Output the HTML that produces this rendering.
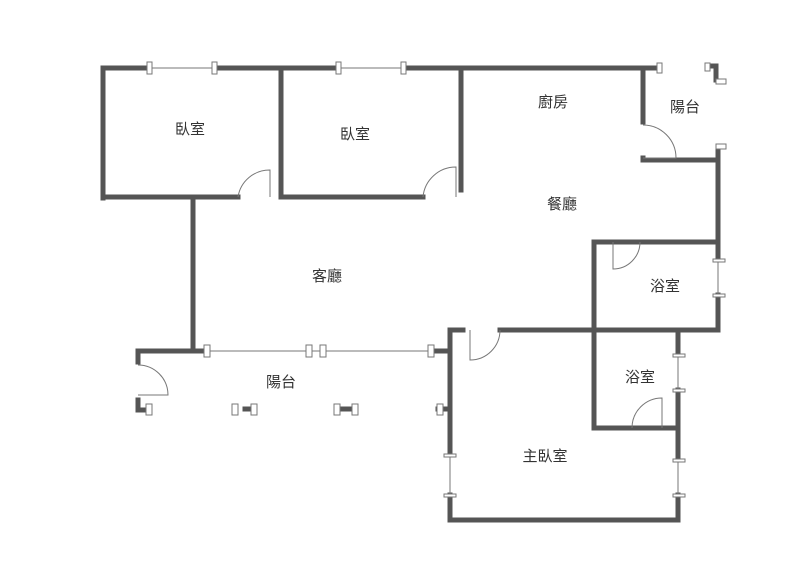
<!DOCTYPE html>
<html><head><meta charset="utf-8"><style>
body{margin:0;background:#fff}
svg text{font-family:"Liberation Sans","Noto Sans CJK TC",sans-serif;font-size:15px;fill:#333;text-anchor:middle;dominant-baseline:middle}
</style></head><body>
<svg width="800" height="577" viewBox="0 0 800 577">
<g stroke="#555" stroke-width="5" fill="none" stroke-linecap="square">
<path d="M103 198 V68 H149 M214 68 H338 M403 68 H658"/>
<path d="M103 197 H238 M281 70 V197 H423 M461 70 V190"/>
<path d="M193 198 V351 H203 M138 362 V351 H193 M138 400 V410 H146 M433 351 H450"/>
<path d="M643 68 V122 M643 158 V160 H718 M718 148 V260 M718 295 V330 H500 M463 330 H450 V455 M450 495 V520 H678 V495 M678 460 V390 M678 355 V330"/>
<path d="M594 330 V242 H718 M594 330 V428 H678"/>
<path d="M708 66 H716 V80"/>
<path d="M245 409 H250 M341 409 H350 M438 409 H450"/>
</g>
<g stroke="#777" stroke-width="1" fill="none">
<path d="M149 68 H214 M338 68 H403 M207 351 H430 M450 455 V495 M678 355 V390 M678 460 V495 M718 260 V295"/>
<path d="M238 197 A32 32 0 0 1 270 170 V197"/>
<path d="M423 197 A33 33 0 0 1 456 167 V197"/>
<path d="M643 125 A33 33 0 0 1 676 158 H643"/>
<path d="M138 365 A30 30 0 0 1 168 395 H138"/>
<path d="M500 330 A30 30 0 0 1 470 360 V330"/>
<path d="M640 242 A27 27 0 0 1 613 269 V242"/>
<path d="M632 428 A30 30 0 0 1 662 398 V428"/>
</g>
<g stroke="#777" stroke-width="1" fill="#fff">
<rect x="147" y="62" width="5" height="12"/><rect x="212" y="62" width="5" height="12"/>
<rect x="336" y="62" width="5" height="12"/><rect x="401" y="62" width="5" height="12"/>
<rect x="657" y="63" width="5" height="10"/><rect x="705" y="63" width="5" height="8"/>
<rect x="716" y="79" width="10" height="5"/><rect x="716" y="144" width="10" height="5"/>
<rect x="204" y="345" width="6" height="12"/><rect x="306" y="345" width="6" height="12"/><rect x="320" y="345" width="6" height="12"/><rect x="428" y="345" width="6" height="12"/>
<rect x="146" y="404" width="6" height="11"/><rect x="232" y="404" width="6" height="11"/><rect x="251" y="404" width="6" height="11"/><rect x="334" y="404" width="6" height="11"/><rect x="352" y="404" width="6" height="11"/><rect x="437" y="404" width="6" height="11"/>
<rect x="713" y="259" width="12" height="3"/><rect x="713" y="294" width="12" height="3"/>
<rect x="673" y="354" width="12" height="3"/><rect x="673" y="389" width="12" height="3"/>
<rect x="673" y="459" width="12" height="3"/><rect x="673" y="494" width="12" height="3"/>
<rect x="444" y="454" width="12" height="3"/><rect x="444" y="494" width="12" height="3"/>
</g>
<text x="190" y="130">臥室</text>
<text x="355" y="135">臥室</text>
<text x="553" y="103">廚房</text>
<text x="685" y="108">陽台</text>
<text x="562" y="205">餐廳</text>
<text x="327" y="277">客廳</text>
<text x="665" y="287">浴室</text>
<text x="640" y="378">浴室</text>
<text x="281" y="383">陽台</text>
<text x="545" y="457">主臥室</text>
</svg>
</body></html>
